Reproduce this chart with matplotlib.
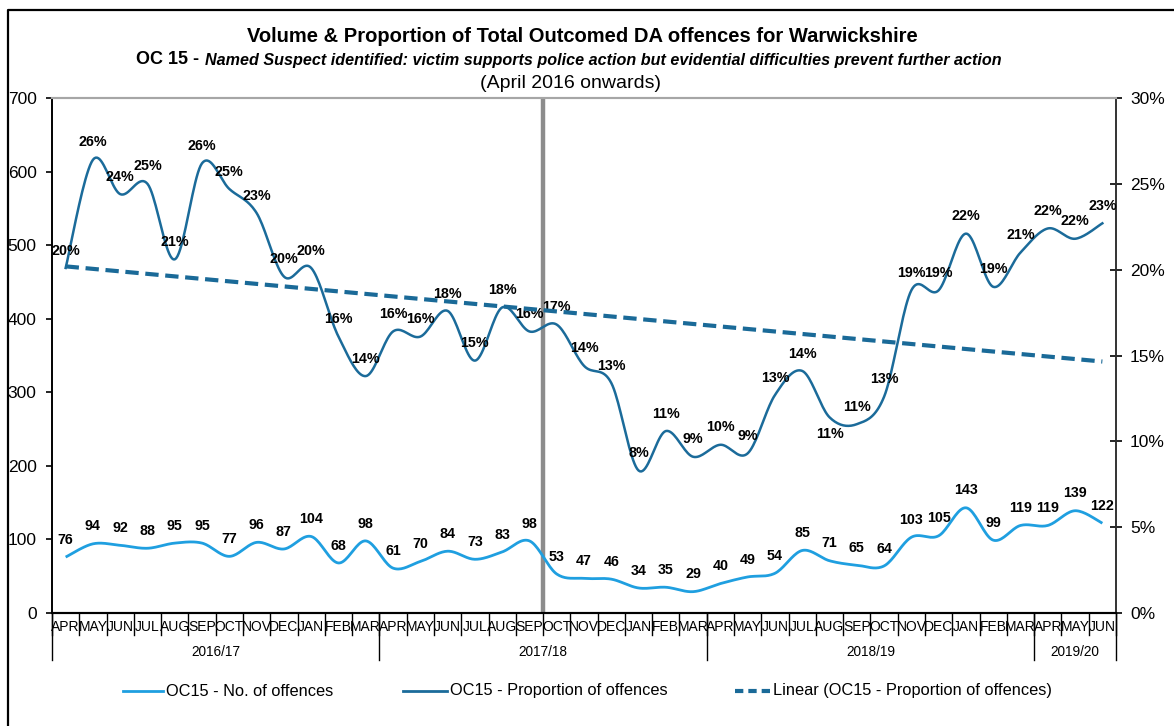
import numpy as np
import matplotlib
matplotlib.use("Agg")
import matplotlib.pyplot as plt
from matplotlib.lines import Line2D
from matplotlib.ticker import PercentFormatter
import matplotlib.transforms as mtransforms

plt.rcParams['font.family'] = ['Liberation Sans', 'DejaVu Sans']

# monthly series, April 2016 to June 2019
months = ['APR', 'MAY', 'JUN', 'JUL', 'AUG', 'SEP', 'OCT', 'NOV', 'DEC', 'JAN', 'FEB', 'MAR'] * 3 + ['APR', 'MAY', 'JUN']
years = ['2016/17', '2017/18', '2018/19', '2019/20']
year_len = [12, 12, 12, 3]

offences = [76, 94, 92, 88, 95, 95, 77, 96, 87, 104, 68, 98,
            61, 70, 84, 73, 83, 98, 53, 47, 46, 34, 35, 29,
            40, 49, 54, 85, 71, 65, 64, 103, 105, 143, 99, 119,
            119, 139, 122]

proportion = [20.1, 26.4, 24.4, 25.0, 20.6, 26.2, 24.7, 23.3, 19.6, 20.1, 16.1, 13.8,
              16.4, 16.1, 17.6, 14.7, 17.8, 16.4, 16.8, 14.4, 13.4, 8.3, 10.6, 9.1,
              9.8, 9.3, 12.7, 14.1, 11.4, 11.0, 12.6, 18.8, 18.8, 22.1, 19.0, 21.0,
              22.4, 21.8, 22.7]

title = "Volume & Proportion of Total Outcomed DA offences for Warwickshire"
sub_code = "OC 15 -"
sub_text = "Named Suspect identified: victim supports police action but evidential difficulties prevent further action"
sub_period = "(April 2016 onwards)"

c_count = '#1f9fe0'
c_prop = '#1b6b9a'
c_trend = '#1a6a98'


def smooth(x, y, steps=20):
    # cubic bezier through every point (catmull-rom style tangents)
    x = np.asarray(x, float)
    y = np.asarray(y, float)
    px = np.concatenate([[x[0]], x, [x[-1]]])
    py = np.concatenate([[y[0]], y, [y[-1]]])
    t = np.linspace(0, 1, steps, endpoint=False)[:, None]
    segs = []
    for i in range(len(x) - 1):
        p0 = np.array([px[i], py[i]])
        p1 = np.array([px[i + 1], py[i + 1]])
        p2 = np.array([px[i + 2], py[i + 2]])
        p3 = np.array([px[i + 3], py[i + 3]])
        c1 = p1 + (p2 - p0) / 6
        c2 = p2 - (p3 - p1) / 6
        b = (1 - t) ** 3 * p1 + 3 * (1 - t) ** 2 * t * c1 + 3 * (1 - t) * t ** 2 * c2 + t ** 3 * p2
        segs.append(b)
    segs.append(np.array([[x[-1], y[-1]]]))
    pts = np.vstack(segs)
    return pts[:, 0], pts[:, 1]


W, H = 1174, 726
fig = plt.figure(figsize=(W / 100, H / 100), dpi=100)
ax = fig.add_axes([52 / W, 1 - 613 / H, (1116 - 52) / W, (613 - 98) / H])
ax2 = ax.twinx()

x = np.arange(len(offences))
n = len(x)

# divider between Sep and Oct 2017
ax.axvline(17.5, color='#8c8c8c', lw=3.2, zorder=1)

sx, sy = smooth(x, offences)
ax.plot(sx, sy, color=c_count, lw=2.0, zorder=3, solid_capstyle='butt')
for xi, v in zip(x, offences):
    ax.annotate(str(v), (xi, v), xytext=(0, 12.5), textcoords='offset points',
                ha='center', va='center', fontsize=10.3, fontweight='bold', color='black')

prop = np.array(proportion) / 100
sx, sy = smooth(x, prop)
ax2.plot(sx, sy, color=c_prop, lw=1.8, zorder=3)

# linear trend of the proportion
k, b = np.polyfit(x, prop, 1)
ax2.plot([x[0], x[-1]], [k * x[0] + b, k * x[-1] + b], color=c_trend, lw=3.0,
         dashes=(3.2, 1.6), zorder=4)

label_dy = {28: -12}
for xi, v in zip(x, prop):
    dy = label_dy.get(int(xi), 12.5)
    ax2.annotate(f"{v * 100:.0f}%", (xi, v), xytext=(0, dy), textcoords='offset points',
                 ha='center', va='center', fontsize=10.3, fontweight='bold', color='black')

ax.set_xlim(-0.5, n - 0.5)
ax.set_ylim(0, 700)
ax2.set_ylim(0, 0.30)
ax.set_yticks(range(0, 701, 100))
ax2.set_yticks(np.arange(0, 0.301, 0.05))
ax2.yaxis.set_major_formatter(PercentFormatter(1.0, decimals=0))
ax.set_xticks([])

for a in (ax, ax2):
    a.spines['top'].set_color('#a6a6a6')
    a.spines['top'].set_linewidth(1.5)
    a.spines['left'].set_linewidth(1.2)
    a.spines['right'].set_linewidth(1.2)
    a.spines['bottom'].set_linewidth(1.5)
    a.spines['right'].set_color('#333333')
ax.tick_params(axis='y', direction='out', length=4, width=1.2, pad=7, labelsize=12.5)
ax2.tick_params(axis='y', direction='inout', length=8, width=1.2, pad=6, labelsize=12.5)

# month labels and separators below the axis
trans = mtransforms.blended_transform_factory(ax.transData, ax.transAxes)
for xi, m in zip(x, months):
    ax.text(xi, -0.027, m, transform=trans, ha='center', va='center', fontsize=10)
for edge in np.arange(0, n + 1) - 0.5:
    ax.plot([edge, edge], [0, -0.043], transform=trans, color='black', lw=1.0, clip_on=False)

start = 0
for yr, ln in zip(years, year_len):
    ax.text(start + ln / 2 - 0.5, -0.076, yr, transform=trans, ha='center', va='center', fontsize=9.8)
    start += ln
edges = np.cumsum([0] + year_len) - 0.5
for edge in edges:
    ax.plot([edge, edge], [0, -0.091], transform=trans, color='black', lw=1.0, clip_on=False)

# titles
fig.text(582 / W, 1 - 37 / H, title, ha='center', va='center', fontsize=14.5, fontweight='bold')
renderer = fig.canvas.get_renderer()
t1 = fig.text(0, 1 - 60 / H, sub_code, ha='left', va='center', fontsize=13, fontweight='bold')
t2 = fig.text(0, 1 - 60 / H, sub_text, ha='left', va='center', fontsize=11.6,
              fontweight='bold', fontstyle='italic')
w1 = t1.get_window_extent(renderer).width
w2 = t2.get_window_extent(renderer).width
gap = 6
x0 = 569 - (w1 + gap + w2) / 2
t1.set_x(x0 / W)
t2.set_x((x0 + w1 + gap) / W)
fig.text(571 / W, 1 - 83 / H, sub_period, ha='center', va='center', fontsize=14)

# legend along the bottom
ly = 1 - 691 / H
entries = [
    (123, 163, dict(color=c_count, lw=2.0), "OC15 - No. of offences"),
    (403, 447, dict(color=c_prop, lw=2.0), "OC15 - Proportion of offences"),
    (735, 770, dict(color=c_trend, lw=3.0, dashes=(2.0, 1.2)), "Linear (OC15 - Proportion of offences)"),
]
for xa, xb, style, label in entries:
    fig.add_artist(Line2D([xa / W, xb / W], [ly, ly], transform=fig.transFigure, **style))
    fig.text((xb + 3) / W, ly, label, ha='left', va='center', fontsize=11.8)

# chart frame on the left and top
fig.add_artist(Line2D([7.5 / W, 7.5 / W, 1.0], [0, 1 - 9.5 / H, 1 - 9.5 / H],
                      transform=fig.transFigure, color='black', lw=1.6))

fig.savefig('out.png', dpi=100)
